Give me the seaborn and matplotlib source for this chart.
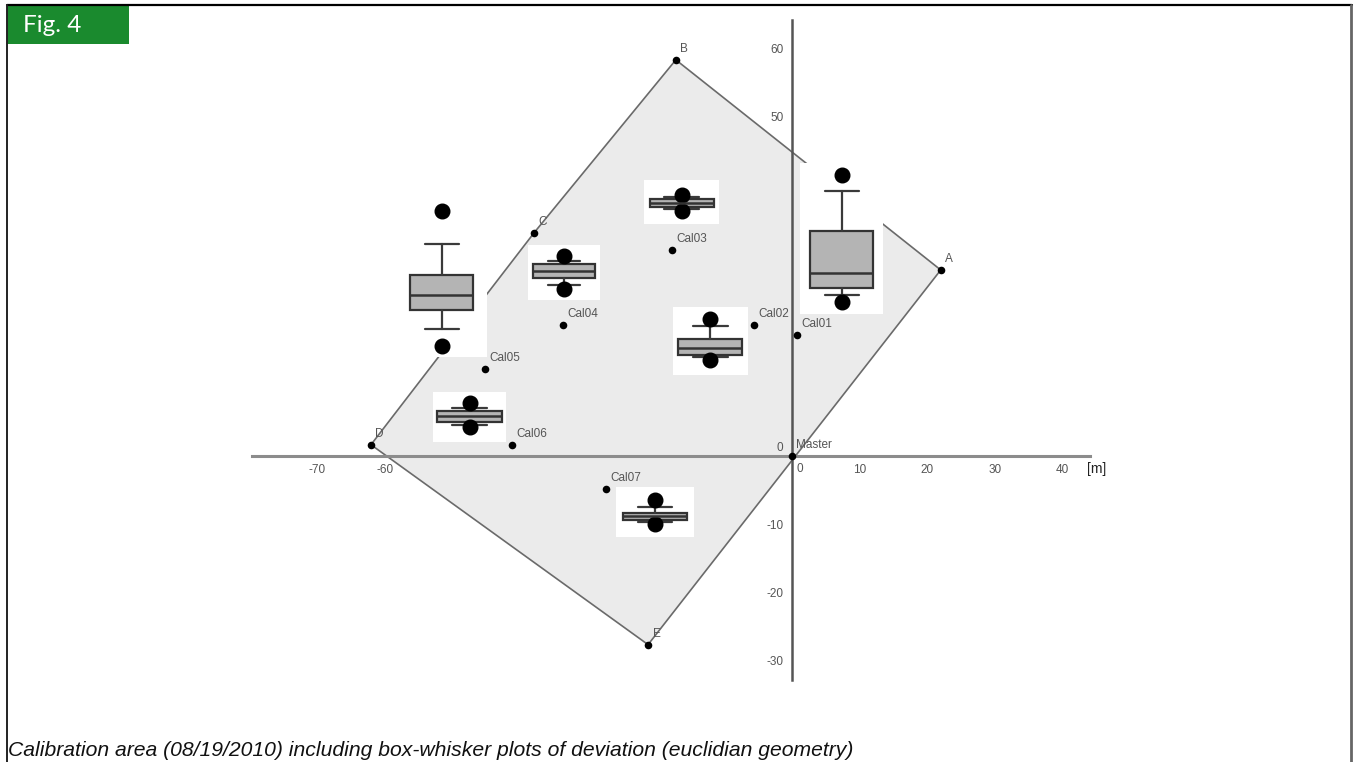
import matplotlib
matplotlib.use("Agg")
import matplotlib.pyplot as plt
from matplotlib.patches import Rectangle, Polygon
from matplotlib.lines import Line2D
import seaborn as sns
import pandas as pd

# Corner points of the calibration area (local grid, metres)
corner_names = ["A", "B", "C", "D", "E"]
corner_x = [22.0, -17.1, -38.0, -62.1, -21.2]
corner_y = [27.4, 58.3, 32.9, 1.7, -27.7]

# Reference station and calibration points
station_names = ["Master", "Cal01", "Cal02", "Cal03", "Cal04", "Cal05", "Cal06", "Cal07"]
station_x = [0.0, 0.8, -5.6, -17.7, -33.8, -45.3, -41.3, -27.4]
station_y = [0.0, 17.9, 19.3, 30.3, 19.3, 12.8, 1.7, -4.8]

# Deviation statistics for each calibration point (box-whisker summary)
box_names = ["Cal01", "Cal02", "Cal03", "Cal04", "Cal05", "Cal06", "Cal07"]
dev_flier_hi = [20.4, 8.3, 4.3, 6.4, 21.4, 5.65, 5.5]
dev_whishi = [18.1, 7.25, 4.06, 5.8, 16.6, 5.0, 4.4]
dev_q3 = [12.2, 5.3, 3.68, 5.3, 12.0, 4.56, 3.6]
dev_med = [6.0, 3.9, 3.13, 4.3, 9.1, 3.78, 3.1]
dev_q1 = [3.8, 2.9, 2.59, 3.3, 6.9, 2.94, 2.5]
dev_whislo = [2.8, 2.6, 2.21, 2.2, 4.1, 2.4, 2.3]
dev_flier_lo = [1.8, 2.2, 2.0, 1.6, 1.6, 2.1, 1.96]

# Axis ticks
x_ticks = [-70, -60, -50, -40, -30, -20, -10, 10, 20, 30, 40]
y_ticks = [-30, -20, -10, 10, 20, 30, 40, 50, 60]

# Placement of the box-plot panels on the map (x0, y0, width, height in metres)
panel_bounds = [
    (1.23, 20.93, 12.25, 22.2),
    (-17.48, 11.96, 10.98, 10.04),
    (-21.80, 34.12, 11.11, 6.51),
    (-38.92, 22.99, 10.63, 8.09),
    (-58.26, 14.6, 13.28, 23.53),
    (-52.9, 2.15, 10.69, 7.35),
    (-25.93, -11.91, 11.51, 7.35),
]
box_widths = [0.77, 0.86, 0.85, 0.86, 0.70, 0.89, 0.83]
cap_widths = [0.41, 0.46, 0.46, 0.44, 0.37, 0.48, 0.445]

W, H = 1357, 762
sns.set_theme(style="white")
plt.rcParams["font.family"] = ["Liberation Sans", "DejaVu Sans"]

fig = plt.figure(figsize=(W / 100, H / 100), dpi=100)
fig.patch.set_facecolor("white")


def fx(px):
    return px / W


def fy(py):
    return 1 - py / H


ax = fig.add_axes([fx(252), fy(680), (1090 - 252) / W, (680 - 20) / H])
ax.set_xlim(-79.66, 44.03)
ax.set_ylim(-32.9, 64.16)
ax.set_facecolor("none")

# Calibration area
poly = Polygon(list(zip(corner_x, corner_y)), closed=True,
               facecolor="#ebebeb", edgecolor="#6a6a6a", linewidth=1.2, zorder=1)
ax.add_patch(poly)

# Cross axes through the master station
for s in ["top", "right"]:
    ax.spines[s].set_visible(False)
ax.spines["left"].set_position(("data", 0))
ax.spines["bottom"].set_position(("data", 0))
ax.spines["bottom"].set_color("#8c8c8c")
ax.spines["bottom"].set_linewidth(2.2)
ax.spines["left"].set_color("#555555")
ax.spines["left"].set_linewidth(1.8)
ax.spines["left"].set_zorder(2)
ax.spines["bottom"].set_zorder(2)

ax.set_xticks(x_ticks)
ax.set_yticks(y_ticks)
ax.set_xticklabels([str(t) for t in x_ticks])
ax.set_yticklabels([str(t) for t in y_ticks])
ax.tick_params(axis="both", direction="out", length=3, width=1, color="#666666",
               labelsize=8.5, labelcolor="#555555")
ax.tick_params(axis="x", pad=2.5)
ax.tick_params(axis="y", pad=3)
ax.grid(False)
ax.text(1.2, -1.8, "0", fontsize=8.5, color="#555555", ha="center", va="center")
ax.text(-1.8, 1.2, "0", fontsize=8.5, color="#555555", ha="center", va="center")
ax.annotate("[m]", xy=(44.03, 0), xycoords="data", xytext=(-2, -9),
            textcoords="offset points", fontsize=10, color="#222222",
            ha="left", va="center")

# Points
pts = pd.DataFrame({
    "x": corner_x + station_x,
    "y": corner_y + station_y,
    "name": corner_names + station_names,
})
sns.scatterplot(data=pts, x="x", y="y", color="black", s=30, edgecolor="black",
                linewidth=0, ax=ax, zorder=4, legend=False)
ax.set_xlabel("")
ax.set_ylabel("")
for _, r in pts.iterrows():
    ax.annotate(r["name"], xy=(r["x"], r["y"]), xytext=(3.2, 7.8),
                textcoords="offset points", fontsize=8.5, color="#555555",
                ha="left", va="center", zorder=4)

# Box-whisker panels
for i, name in enumerate(box_names):
    x0, y0, w, h = panel_bounds[i]
    iax = ax.inset_axes([x0, y0, w, h], transform=ax.transData, zorder=5)
    iax.set_facecolor("white")
    for s in iax.spines.values():
        s.set_visible(False)
    stats = [{
        "med": dev_med[i], "q1": dev_q1[i], "q3": dev_q3[i],
        "whislo": dev_whislo[i], "whishi": dev_whishi[i],
        "fliers": [dev_flier_lo[i], dev_flier_hi[i]], "label": name,
    }]
    iax.bxp(stats, positions=[0], widths=box_widths[i], capwidths=cap_widths[i],
            patch_artist=True, showfliers=True, manage_ticks=False,
            boxprops=dict(facecolor="#b4b4b4", edgecolor="#333333", linewidth=1.6),
            medianprops=dict(color="#333333", linewidth=1.8),
            whiskerprops=dict(color="#3a3a3a", linewidth=1.6),
            capprops=dict(color="#3a3a3a", linewidth=1.6),
            flierprops=dict(marker="o", markerfacecolor="black",
                            markeredgecolor="black", markersize=10.5))
    iax.set_xlim(-0.5, 0.5)
    iax.set_ylim(0, h)
    iax.set_xticks([])
    iax.set_yticks([])

# Page frame and figure tag
fig.add_artist(Line2D([fx(7), fx(1352)], [fy(5), fy(5)], color="black", linewidth=1.6))
fig.add_artist(Line2D([fx(7), fx(7)], [fy(5), fy(762)], color="#222222", linewidth=1.4))
fig.add_artist(Line2D([fx(1351), fx(1351)], [fy(5), fy(762)], color="#666666", linewidth=2.0))
fig.add_artist(Rectangle((fx(7), fy(44)), fx(129) - fx(7), fy(5) - fy(44),
                         facecolor="#1a8a2e", edgecolor="none"))
fig.text(fx(23), fy(26), "Fig. 4", color="white", fontsize=17.5,
         family=["Lato", "DejaVu Sans"], ha="left", va="center")
fig.text(fx(8), fy(750), "Calibration area (08/19/2010) including box-whisker plots of "
         "deviation (euclidian geometry)", fontsize=15.2, style="italic",
         color="#111111", ha="left", va="center")

fig.savefig("out.png", dpi=100, facecolor="white")
